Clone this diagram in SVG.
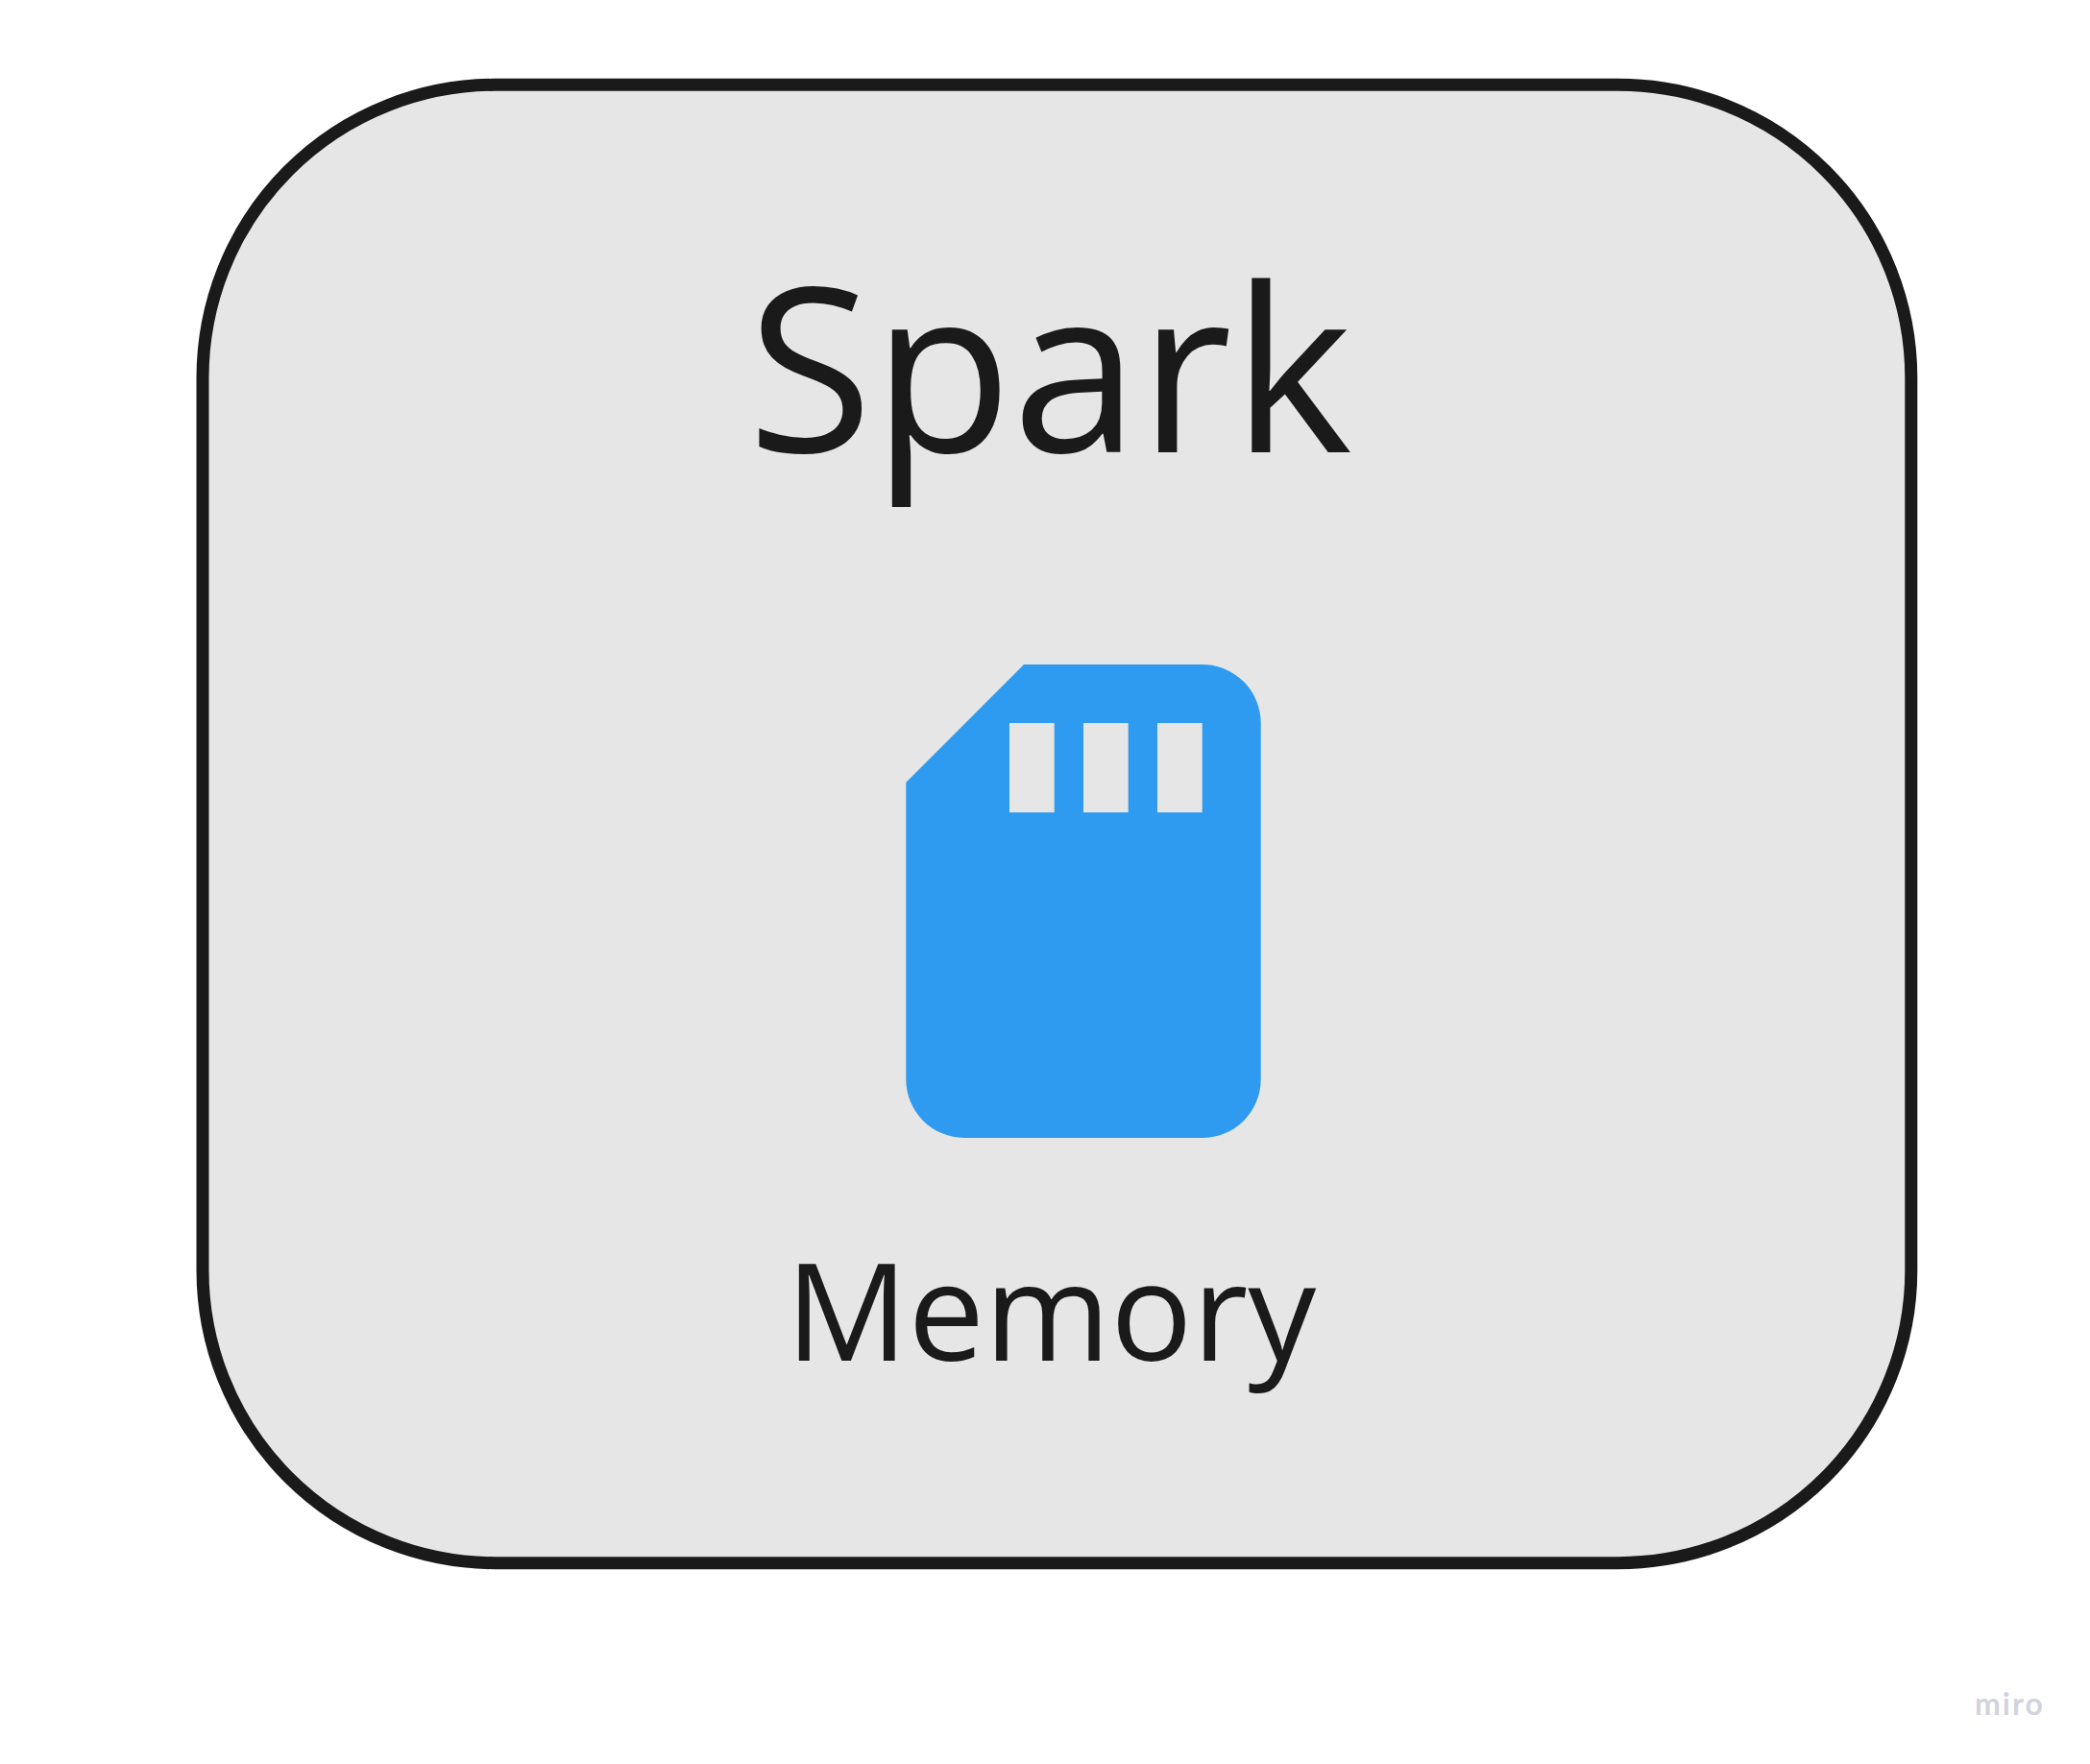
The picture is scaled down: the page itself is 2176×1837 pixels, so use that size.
<svg xmlns="http://www.w3.org/2000/svg" width="2176" height="1837" viewBox="0 0 2176 1837">
<style>
.t{font-family:"Open Sans","Noto Sans",sans-serif;fill:#1a1a1a}
.win{fill:#e6e6e6}
</style>
<rect width="2176" height="1837" fill="#fff"/>
<g id="spark-node">
<rect x="211" y="88.3" width="1778.8" height="1539.4" rx="305" ry="305" fill="#e6e6e6" stroke="#1a1a1a" stroke-width="13"/>
<text class="t" x="1093" y="471.4" font-size="237.5" text-anchor="middle">Spark</text>
</g>
<g id="memory-node">
<path d="M1066 692H1251.7A61 61 0 0 1 1312.7 753V1124A61 61 0 0 1 1251.7 1185H1004.3A61 61 0 0 1 943.3 1124V814.8Z" fill="#2e9bf0"/>
<rect class="win" x="1051" y="753" width="46.7" height="93"/>
<rect class="win" x="1128" y="753" width="46.7" height="93"/>
<rect class="win" x="1205" y="753" width="46.7" height="93"/>
<text class="t" x="1094.2" y="1417" font-size="141.7" text-anchor="middle">Memory</text>
</g>
<g id="connectors"/>
<text id="watermark" x="2056" y="1786" font-family="Lato,'Noto Sans',sans-serif" font-size="32" font-weight="700" letter-spacing="2" fill="#d2d3de">miro</text>
</svg>
